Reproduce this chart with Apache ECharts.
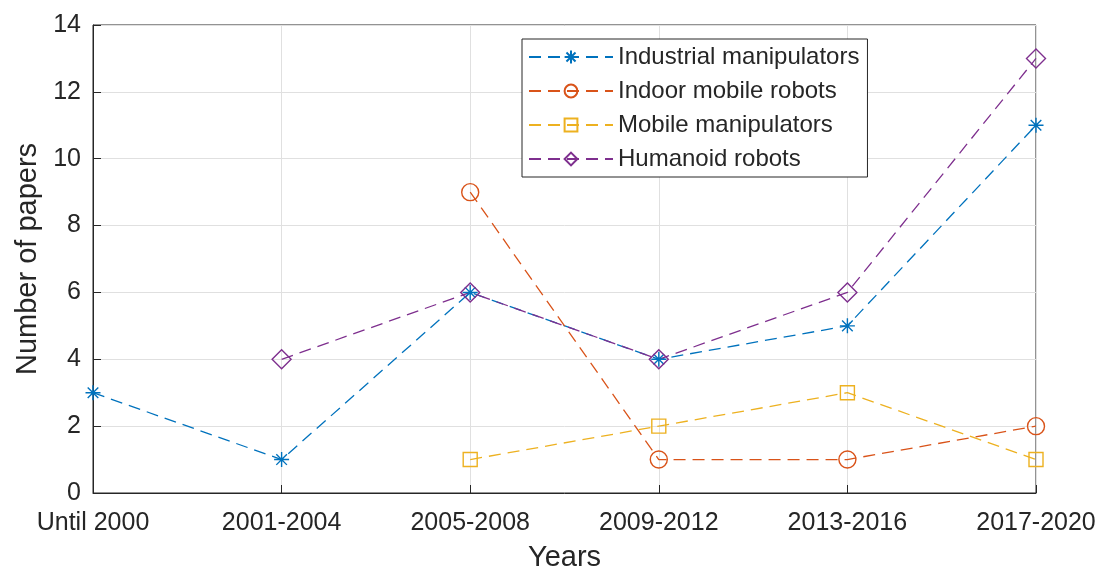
<!DOCTYPE html>
<html>
<head>
<meta charset="utf-8">
<script src="https://cdn.jsdelivr.net/npm/echarts@6/dist/echarts.min.js"></script>
<style>
  html, body { margin: 0; padding: 0; background: #fff; }
  #chart { width: 1103px; height: 572px; }
</style>
</head>
<body>
<div id="chart"></div>
<script>
// Category labels on the x axis (publication periods)
const periods = ['Until 2000', '2001-2004', '2005-2008', '2009-2012', '2013-2016', '2017-2020'];

// Number of papers per period for each robot type (null = no data)
const industrialManipulators = [3, 1, 6, 4, 5, 11];
const indoorMobileRobots = [null, null, 9, 1, 1, 2];
const mobileManipulators = [null, null, 1, 2, 3, 1];
const humanoidRobots = [null, 4, 6, 4, 6, 13];

const seriesNames = ['Industrial manipulators', 'Indoor mobile robots', 'Mobile manipulators', 'Humanoid robots'];
const colors = ['#0072BD', '#D95319', '#EDB120', '#7E2F8E'];

// Eight-armed asterisk marker
const asterisk = 'path://M10,0 L10,20 M0,10 L20,10 M2.93,2.93 L17.07,17.07 M2.93,17.07 L17.07,2.93';

const font = 'Liberation Sans, Arial, Helvetica, sans-serif';
const ink = '#262626';

function makeSeries(name, data, color, symbol, size) {
  return {
    name: name,
    type: 'line',
    data: data,
    symbol: symbol,
    symbolSize: size,
    connectNulls: false,
    lineStyle: { color: color, width: 1.3, type: [12, 7] },
    itemStyle: { color: 'rgba(0,0,0,0)', borderColor: color, borderWidth: 1.4 },
    emphasis: { disabled: true },
    z: 3
  };
}

const chart = echarts.init(document.getElementById('chart'), null, { renderer: 'canvas' });
chart.setOption({
  animation: false,
  backgroundColor: '#fff',
  grid: {
    left: 93, right: 67, top: 25, bottom: 79,
    outerBoundsMode: 'none', containLabel: false,
    show: true, borderColor: ink, borderWidth: 1
  },
  legend: {
    left: 522, top: 39,
    orient: 'vertical',
    itemWidth: 84, itemHeight: 16, itemGap: 10,
    padding: [6, 8, 6, 6],
    backgroundColor: '#fff',
    borderColor: ink, borderWidth: 1,
    textStyle: { fontFamily: font, fontSize: 24, lineHeight: 24, color: ink },
    data: seriesNames
  },
  xAxis: {
    type: 'category',
    data: periods,
    boundaryGap: false,
    name: 'Years',
    nameLocation: 'middle',
    nameGap: 50,
    nameTextStyle: { fontFamily: font, fontSize: 29, color: ink },
    axisLine: { lineStyle: { color: ink, width: 1 } },
    axisTick: { inside: true, length: 8, alignWithLabel: true, lineStyle: { color: ink } },
    axisLabel: { fontFamily: font, fontSize: 25, color: ink, margin: 18 },
    splitLine: { show: true, lineStyle: { color: '#e0e0e0', width: 1 } }
  },
  yAxis: {
    type: 'value',
    min: 0, max: 14, interval: 2,
    name: 'Number of papers',
    nameLocation: 'middle',
    nameGap: 50,
    nameTextStyle: { fontFamily: font, fontSize: 29, color: ink },
    axisLine: { show: true, lineStyle: { color: ink, width: 1 } },
    axisTick: { show: true, inside: true, length: 8, lineStyle: { color: ink } },
    axisLabel: { fontFamily: font, fontSize: 25, color: ink, margin: 12 },
    splitLine: { show: true, lineStyle: { color: '#e0e0e0', width: 1 } }
  },
  series: [
    makeSeries(seriesNames[0], industrialManipulators, colors[0], asterisk, 15),
    makeSeries(seriesNames[1], indoorMobileRobots, colors[1], 'circle', 17),
    makeSeries(seriesNames[2], mobileManipulators, colors[2], 'rect', 14),
    makeSeries(seriesNames[3], humanoidRobots, colors[3], 'diamond', 19)
  ]
});
</script>
</body>
</html>
